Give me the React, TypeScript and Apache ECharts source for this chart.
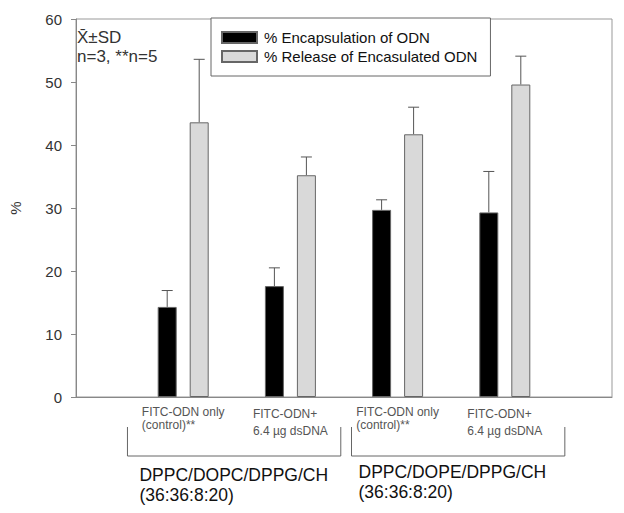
import React, { useEffect, useRef } from "react";
import * as echarts from "echarts";

const categories = ["", "g1", "g2", "g3", "g4", ""];
const catLabels: Record<string, string[]> = {
  g1: ["FITC-ODN only", "(control)**"],
  g2: ["FITC-ODN+", "6.4 \u00b5g dsDNA"],
  g3: ["FITC-ODN only", "(control)**"],
  g4: ["FITC-ODN+", "6.4 \u00b5g dsDNA"],
};
const encapsulation = [null, 14.3, 17.6, 29.7, 29.3, null];
const encapsulationSD = [null, 2.6, 2.9, 1.6, 6.5, null];
const release = [null, 43.6, 35.2, 41.7, 49.6, null];
const releaseSD = [null, 10.0, 2.9, 4.3, 4.5, null];
const seriesNames = ["% Encapsulation of ODN", "% Release of Encasulated ODN"];
const groupNames = [
  ["DPPC/DOPC/DPPG/CH", "(36:36:8:20)"],
  ["DPPC/DOPE/DPPG/CH", "(36:36:8:20)"],
];
const yTicks = { min: 0, max: 60, interval: 10 };

const FONT = "Arial, 'Liberation Sans', sans-serif";
const BAR_W = 19;
const GAP_PX = 13;

export default function App() {
  const ref = useRef<HTMLDivElement>(null);
  useEffect(() => {
    if (!ref.current) return;
    const chart = echarts.init(ref.current, null, { renderer: "svg" });
    const offset = (BAR_W + GAP_PX) / 2;
    const errData = (vals: (number | null)[], sds: (number | null)[]) =>
      vals
        .map((v, i) => (v == null ? null : [i, v, sds[i]]))
        .filter((d) => d != null);
    const errSeries = (vals: any, sds: any, dx: number) => ({
      type: "custom",
      data: errData(vals, sds),
      z: 1,
      silent: true,
      renderItem: (params: any, api: any) => {
        const c = api.value(0);
        const v = api.value(1);
        const sd = api.value(2);
        const p0 = api.coord([c, v]);
        const p1 = api.coord([c, v + sd]);
        const x = p0[0] + dx;
        const st = { stroke: "#555", lineWidth: 1 };
        return {
          type: "group",
          children: [
            { type: "line", shape: { x1: x, y1: p0[1], x2: x, y2: p1[1] }, style: st },
            { type: "line", shape: { x1: x - 5.5, y1: p1[1], x2: x + 5.5, y2: p1[1] }, style: st },
          ],
        };
      },
    });
    const option: any = {
      animation: false,
      grid: {
        left: 71,
        right: 12,
        top: 19,
        bottom: 116,
        show: true,
        borderColor: "#999",
        borderWidth: 1,
      },
      legend: {
        orient: "vertical",
        left: 211,
        top: 18,
        padding: [11, 13, 11, 10],
        itemGap: 2,
        itemWidth: 35,
        itemHeight: 11,
        borderColor: "#666",
        borderWidth: 1,
        borderRadius: 0,
        backgroundColor: "#fff",
        icon: "rect",
        textStyle: {
          fontSize: 15,
          lineHeight: 17,
          fontFamily: FONT,
          color: "#111",
          padding: [0, 0, 0, 2],
        },
        data: seriesNames,
      },
      xAxis: {
        type: "category",
        data: categories,
        boundaryGap: false,
        axisLine: { lineStyle: { color: "#888" } },
        axisTick: { show: false },
        axisLabel: {
          interval: 0,
          margin: 8,
          verticalAlign: "top",
          formatter: (v: string) => {
            const l = catLabels[v];
            if (!l) return "";
            const st = v === "g2" || v === "g4" ? "b" : "a";
            return `{${st}|${l[0]}}\n{${st}|${l[1]}}`;
          },
          rich: {
            a: { align: "left", lineHeight: 13, fontSize: 12, fontFamily: FONT, color: "#555" },
            b: { align: "left", lineHeight: 17, fontSize: 12, fontFamily: FONT, color: "#555" },
          },
        },
      },
      yAxis: {
        type: "value",
        min: yTicks.min,
        max: yTicks.max,
        interval: yTicks.interval,
        name: "%",
        nameLocation: "middle",
        nameGap: 53,
        nameRotate: 90,
        nameTextStyle: { fontSize: 15, fontFamily: FONT, color: "#333" },
        axisLine: { show: true, lineStyle: { color: "#888" } },
        axisTick: { show: true, inside: false, length: 5, lineStyle: { color: "#888" } },
        splitLine: { show: false },
        axisLabel: { fontSize: 15, fontFamily: FONT, color: "#333", margin: 14 },
      },
      series: [
        {
          name: seriesNames[0],
          type: "bar",
          data: encapsulation,
          barWidth: BAR_W,
          barGap: `${(GAP_PX / BAR_W) * 100}%`,
          itemStyle: { color: "#000", borderColor: "#666", borderWidth: 1 },
          z: 2,
        },
        {
          name: seriesNames[1],
          type: "bar",
          data: release,
          barWidth: BAR_W,
          barGap: `${(GAP_PX / BAR_W) * 100}%`,
          itemStyle: { color: "#d9d9d9", borderColor: "#666", borderWidth: 1 },
          z: 2,
        },
        errSeries(encapsulation, encapsulationSD, -offset),
        errSeries(release, releaseSD, offset),
      ],
    };
    chart.setOption(option);

    // brackets and group labels, positioned from the axis scale
    const px = (i: number) => chart.convertToPixel({ xAxisIndex: 0 }, i) as number;
    const step = px(2) - px(1);
    const axisY = chart.convertToPixel({ yAxisIndex: 0 }, 0) as number;
    const topY = axisY + 30;
    const botY = axisY + 59;
    const brackets = [
      [px(1) - 0.52 * step, px(2) + 0.47 * step],
      [px(3) - 0.43 * step, px(4) + 0.56 * step],
    ];
    const graphic: any[] = [];
    brackets.forEach(([a, b], gi) => {
      graphic.push({
        type: "polyline",
        shape: { points: [[a, topY], [a, botY], [b, botY], [b, topY]] },
        style: { stroke: "#666", lineWidth: 1, fill: null },
        silent: true,
      });
      graphic.push({
        type: "text",
        x: a + (gi === 0 ? 12 : 7),
        y: botY + (gi === 0 ? 9 : 6),
        style: {
          text: groupNames[gi].join("\n"),
          font: `17.5px ${FONT}`,
          lineHeight: 20,
          fill: "#111",
        },
        silent: true,
      });
    });
    graphic.push({
      type: "text",
      left: 77,
      top: 28,
      style: {
        text: "X\u0304\u00b1SD\nn=3, **n=5",
        font: `17px ${FONT}`,
        lineHeight: 19,
        fill: "#333",
      },
      silent: true,
    });
    chart.setOption({ graphic });
    return () => chart.dispose();
  }, []);
  return (
    <div
      ref={ref}
      style={{ position: "fixed", left: 0, top: 0, width: 624, height: 513, background: "#fff" }}
    />
  );
}
